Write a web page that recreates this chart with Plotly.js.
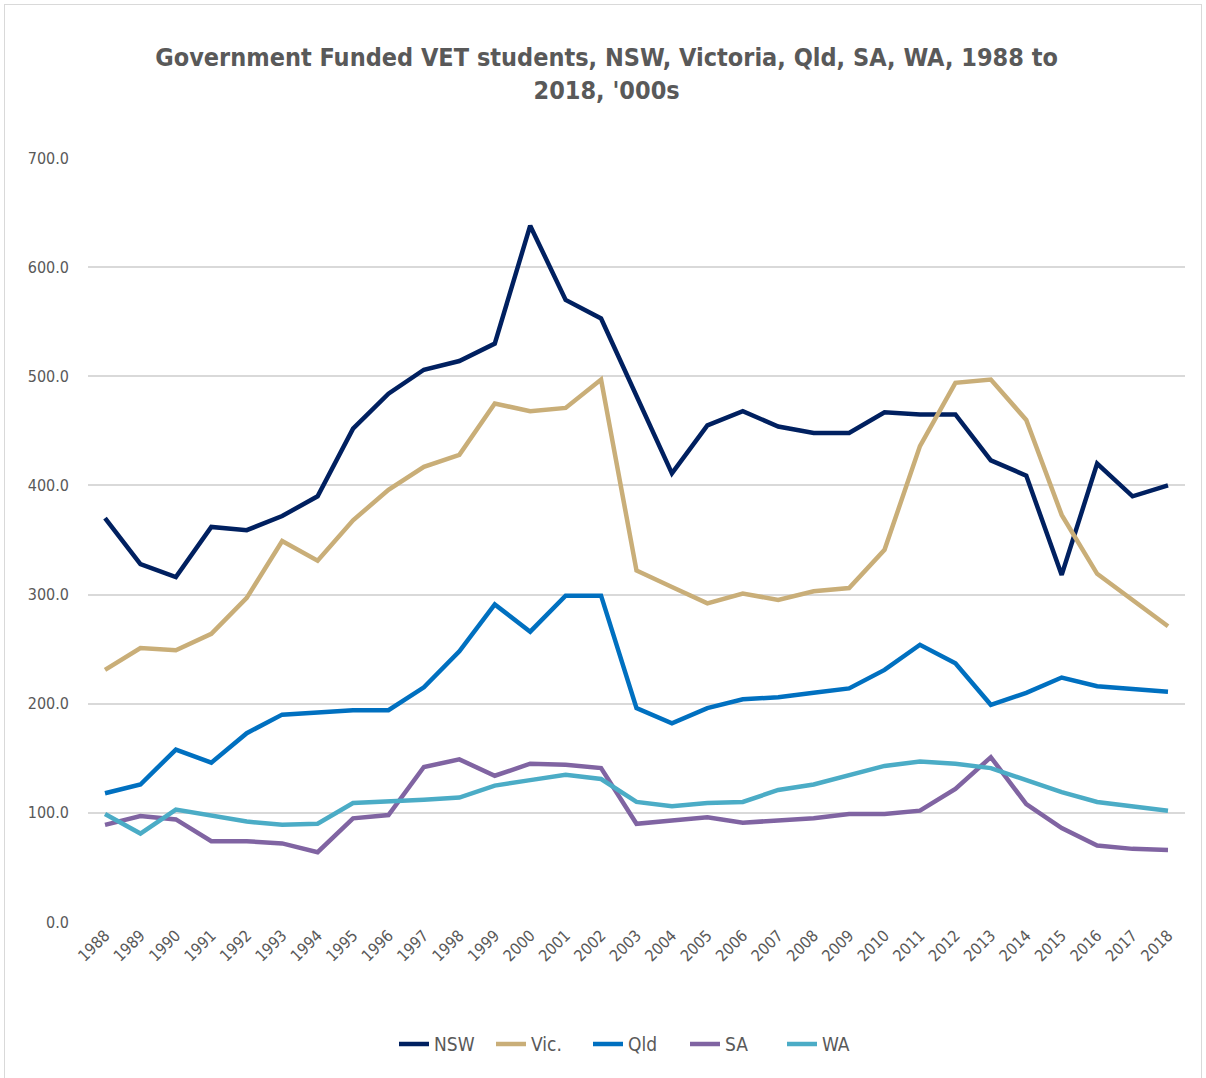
<!DOCTYPE html>
<html>
<head>
<meta charset="utf-8">
<script src="https://cdn.plot.ly/plotly-3.0.1.min.js"></script>
<style>
  html, body { margin: 0; padding: 0; background: #ffffff; }
  #chart { width: 1206px; height: 1078px; }
  #chart text { font-stretch: condensed !important; }
  #frame { position: absolute; left: 4px; top: 4px; width: 1196px; height: 1080px; border: 1px solid #d9d9d9; pointer-events: none; }
</style>
</head>
<body>
<div id="chart"></div>
<div id="frame"></div>
<script>
const years = ["1988","1989","1990","1991","1992","1993","1994","1995","1996","1997","1998","1999","2000","2001","2002","2003","2004","2005","2006","2007","2008","2009","2010","2011","2012","2013","2014","2015","2016","2017","2018"];

const nsw = [370, 328, 316, 362, 359, 372, 390, 452, 484, 506, 514, 530, 638, 570, 553, 482, 411, 455, 468, 454, 448, 448, 467, 465, 465, 423, 409, 318, 420, 390, 400];
const vic = [231, 251, 249, 264, 297, 349, 331, 368, 396, 417, 428, 475, 468, 471, 497, 322, 307, 292, 301, 295, 303, 306, 341, 436, 494, 497, 460, 373, 319, 295, 271];
const qld = [118, 126, 158, 146, 173, 190, 192, 194, 194, 215, 248, 291, 266, 299, 299, 196, 182, 196, 204, 206, 210, 214, 231, 254, 237, 199, 210, 224, 216, 213, 211];
const sa  = [89, 97, 94, 74, 74, 72, 64, 95, 98, 142, 149, 134, 145, 144, 141, 90, 93, 96, 91, 93, 95, 99, 99, 102, 122, 151, 108, 86, 70, 67, 66];
const wa  = [99, 81, 103, 97, 92, 89, 90, 109, 110, 112, 114, 125, 130, 135, 131, 110, 106, 109, 110, 121, 126, 135, 143, 147, 145, 141, 130, 119, 110, 106, 102];

const seriesNames = ["NSW", "Vic.", "Qld", "SA", "WA"];
const seriesData = [nsw, vic, qld, sa, wa];
const seriesColors = ["#002060", "#C9AE78", "#0070C0", "#8064A2", "#4BACC6"];

const FONT = "'DejaVu Sans Condensed', 'DejaVu Sans', sans-serif";

const traces = seriesNames.map((name, i) => ({
  type: "scatter",
  mode: "lines",
  name: name,
  x: years,
  y: seriesData[i],
  line: { color: seriesColors[i], width: 4.5, shape: "linear" },
  hoverinfo: "x+y+name"
}));

const layout = {
  width: 1206,
  height: 1078,
  paper_bgcolor: "#ffffff",
  plot_bgcolor: "#ffffff",
  margin: { l: 88, r: 21, t: 158, b: 156 },
  title: {
    text: "Government Funded VET students, NSW, Victoria, Qld, SA, WA, 1988 to<br>2018, '000s",
    font: { family: FONT, size: 25, color: "#595959", weight: "bold" },
    x: 0.503,
    xanchor: "center",
    yref: "container",
    y: 1 - 66 / 1078,
    yanchor: "middle"
  },
  xaxis: {
    type: "category",
    range: [-0.48, 30.48],
    showgrid: false,
    zeroline: false,
    showline: false,
    ticks: "",
    tickangle: -45,
    tickfont: { family: FONT, size: 16, color: "#595959" },
    fixedrange: true
  },
  yaxis: {
    range: [0, 700],
    dtick: 100,
    tickformat: ".1f",
    showgrid: true,
    gridcolor: "#d9d9d9",
    gridwidth: 2,
    zeroline: false,
    showline: false,
    ticks: "",
    ticklabelstandoff: 18,
    tickfont: { family: FONT, size: 16, color: "#595959" },
    fixedrange: true
  },
  showlegend: true,
  legend: {
    orientation: "h",
    x: 0.5,
    xanchor: "center",
    y: -0.135,
    yanchor: "top",
    font: { family: FONT, size: 19, color: "#595959" },
    itemwidth: 30,
    entrywidth: 52,
    tracegroupgap: 0
  },
  hovermode: "closest"
};

Plotly.newPlot("chart", traces, layout, { displayModeBar: false, staticPlot: false });
</script>
</body>
</html>
